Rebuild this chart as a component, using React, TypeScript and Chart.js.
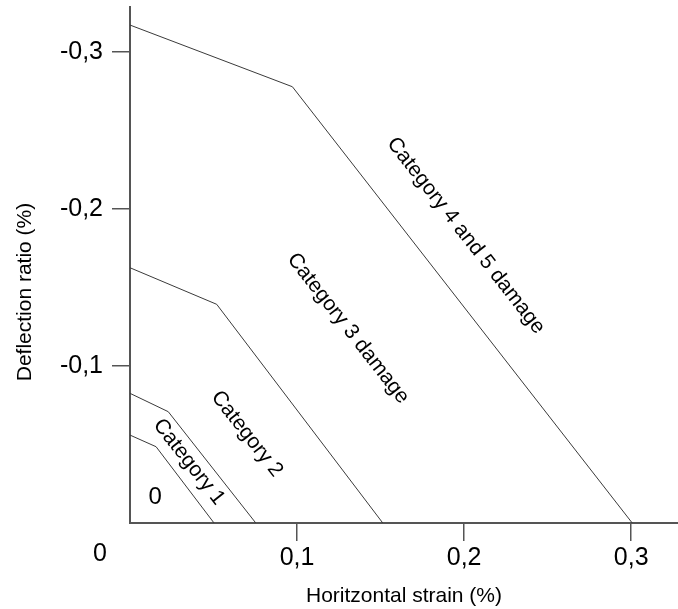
import React, { useEffect, useRef } from 'react';
import { Chart, registerables } from 'chart.js';

Chart.register(...registerables);

// Boundary lines between damage categories (x = horizontal strain %, y = deflection ratio %)
const line01X = [0, 0.0156, 0.0503];
const line01Y = [-0.056, -0.0486, 0];
const line12X = [0, 0.0229, 0.0753];
const line12Y = [-0.0826, -0.0709, 0];
const line23X = [0, 0.0519, 0.1513];
const line23Y = [-0.1626, -0.1393, 0];
const line34X = [0, 0.0972, 0.3006];
const line34Y = [-0.3172, -0.2779, 0];

const xTicks = [0.1, 0.2, 0.3];
const yTicks = [-0.3, -0.2, -0.1];

const zoneLabels = ['0', 'Category 1', 'Category 2', 'Category 3 damage', 'Category 4 and 5 damage'];
const zoneLabelX = [0.015, 0.0353, 0.07, 0.1305, 0.201];
const zoneLabelY = [-0.0166, -0.0389, -0.0567, -0.124, -0.183];
const zoneLabelAngle = [0, 52, 52, 52, 52];

const xTitle = 'Horitzontal strain (%)';
const yTitle = 'Deflection ratio (%)';

const FONT = '"Liberation Sans", Arial, sans-serif';

const toPts = (xs: number[], ys: number[]) => xs.map((x, i) => ({ x, y: ys[i] }));
const fmt = (v: number) => v.toFixed(1).replace('.', ',');

const labelPlugin = {
  id: 'zoneLabels',
  afterDatasetsDraw(chart: any) {
    const { ctx, scales } = chart;
    const xs = scales.x;
    const ys = scales.y;
    ctx.save();
    ctx.fillStyle = '#000';
    ctx.textAlign = 'center';
    ctx.textBaseline = 'middle';
    zoneLabels.forEach((t, i) => {
      const px = xs.getPixelForValue(zoneLabelX[i]);
      const py = ys.getPixelForValue(zoneLabelY[i]);
      ctx.save();
      ctx.translate(px, py);
      ctx.rotate((zoneLabelAngle[i] * Math.PI) / 180);
      ctx.font = (i === 0 ? '24px ' : '21px ') + FONT;
      ctx.fillText(t, 0, 0);
      ctx.restore();
    });
    // shared origin label
    const ox = xs.getPixelForValue(0);
    const oy = ys.getPixelForValue(0);
    ctx.font = '25px ' + FONT;
    ctx.fillText('0', ox - 30, oy + 31);
    // y axis title
    ctx.save();
    ctx.translate(25, 292);
    ctx.rotate(-Math.PI / 2);
    ctx.font = '21px ' + FONT;
    ctx.fillText(yTitle, 0, 0);
    ctx.restore();
    ctx.restore();
  },
};

export default function App() {
  const ref = useRef<HTMLCanvasElement>(null);
  useEffect(() => {
    document.body.style.margin = '0';
    const lineStyle = {
      borderColor: '#3a3a3a',
      borderWidth: 1,
      pointRadius: 0,
      showLine: true,
      fill: false,
      tension: 0,
    };
    const chart = new Chart(ref.current!, {
      type: 'scatter',
      data: {
        datasets: [
          { label: '0-1', data: toPts(line01X, line01Y), ...lineStyle },
          { label: '1-2', data: toPts(line12X, line12Y), ...lineStyle },
          { label: '2-3', data: toPts(line23X, line23Y), ...lineStyle },
          { label: '3-4', data: toPts(line34X, line34Y), ...lineStyle },
        ],
      },
      options: {
        animation: false,
        responsive: false,
        layout: { padding: { top: 7, right: 0, left: 0, bottom: 0 } },
        plugins: { legend: { display: false }, tooltip: { enabled: false } },
        scales: {
          x: {
            type: 'linear',
            min: 0,
            max: 0.328,
            afterBuildTicks: (s: any) => {
              s.ticks = xTicks.map((v) => ({ value: v }));
            },
            afterFit: (s: any) => {
              s.height = 86;
              s.paddingLeft = 0;
              s.paddingRight = 0;
            },
            ticks: {
              callback: (v: any) => fmt(Number(v)),
              font: { size: 25, family: FONT },
              color: '#000',
              padding: 2,
              maxRotation: 0,
              autoSkip: false,
            },
            grid: {
              drawOnChartArea: false,
              drawTicks: true,
              tickLength: 18,
              color: '#555',
              lineWidth: 1.5,
            },
            border: { display: true, color: '#555', width: 2 },
            title: {
              display: true,
              text: xTitle,
              color: '#000',
              font: { size: 21, family: FONT },
              padding: { top: 2, bottom: 0 },
            },
          },
          y: {
            type: 'linear',
            min: -0.3287,
            max: 0,
            reverse: true,
            afterBuildTicks: (s: any) => {
              s.ticks = yTicks.map((v) => ({ value: v }));
            },
            afterFit: (s: any) => {
              s.width = 130;
              s.paddingTop = 0;
              s.paddingBottom = 0;
            },
            ticks: {
              callback: (v: any) => fmt(Number(v)),
              font: { size: 25, family: FONT },
              color: '#000',
              padding: 9,
              autoSkip: false,
            },
            grid: {
              drawOnChartArea: false,
              drawTicks: true,
              tickLength: 18,
              color: '#555',
              lineWidth: 1.5,
            },
            border: { display: true, color: '#555', width: 2 },
          },
        },
      },
      plugins: [labelPlugin],
    } as any);
    return () => chart.destroy();
  }, []);
  return <canvas ref={ref} width={678} height={609} />;
}
